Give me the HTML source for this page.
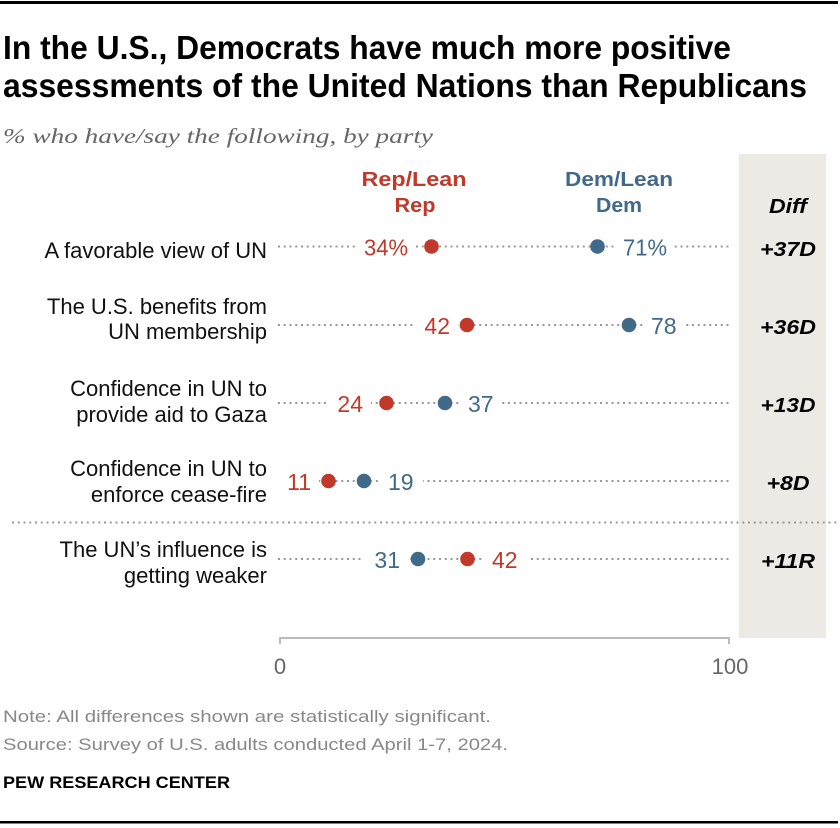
<!DOCTYPE html>
<html>
<head>
<meta charset="utf-8">
<style>
  html, body { margin: 0; padding: 0; background: #fff; }
  svg { display: block; }
</style>
</head>
<body>
<svg width="840" height="828" viewBox="0 0 840 828" xmlns="http://www.w3.org/2000/svg" font-family="'Liberation Sans', sans-serif">
  <!-- top rule -->
  <rect x="0" y="1" width="838" height="3" fill="#000"/>

  <!-- title -->
  <text x="3" y="59" font-size="33" font-weight="bold" fill="#000" textLength="728" lengthAdjust="spacingAndGlyphs">In the U.S., Democrats have much more positive</text>
  <text x="3" y="97" font-size="33" font-weight="bold" fill="#000" textLength="804" lengthAdjust="spacingAndGlyphs">assessments of the United Nations than Republicans</text>

  <!-- subtitle -->
  <text x="3" y="143" font-family="'Liberation Serif', serif" font-style="italic" font-size="21" fill="#666" textLength="430" lengthAdjust="spacingAndGlyphs">% who have/say the following, by party</text>

  <!-- diff column background -->
  <rect x="739" y="154" width="87" height="484" fill="#ECEAE4"/>

  <!-- column headers -->
  <text x="414" y="186" font-size="20" font-weight="bold" fill="#C0392B" text-anchor="middle" textLength="105" lengthAdjust="spacingAndGlyphs">Rep/Lean</text>
  <text x="415" y="212" font-size="20" font-weight="bold" fill="#C0392B" text-anchor="middle" textLength="41" lengthAdjust="spacingAndGlyphs">Rep</text>
  <text x="619" y="186" font-size="20" font-weight="bold" fill="#41698A" text-anchor="middle" textLength="108" lengthAdjust="spacingAndGlyphs">Dem/Lean</text>
  <text x="619" y="212" font-size="20" font-weight="bold" fill="#41698A" text-anchor="middle" textLength="46" lengthAdjust="spacingAndGlyphs">Dem</text>
  <text x="788" y="213" font-size="20" font-weight="bold" font-style="italic" fill="#000" text-anchor="middle" textLength="38" lengthAdjust="spacingAndGlyphs">Diff</text>

  <!-- dotted row lines -->
  <g stroke="#999" stroke-width="2" stroke-dasharray="2 3.75">
    <line x1="278" y1="246.5" x2="730" y2="246.5"/>
    <line x1="278" y1="325" x2="730" y2="325"/>
    <line x1="278" y1="403" x2="730" y2="403"/>
    <line x1="278" y1="481" x2="730" y2="481"/>
    <line x1="278" y1="559" x2="730" y2="559"/>
    <line x1="12" y1="522.5" x2="840" y2="522.5"/>
  </g>

  <!-- white masks behind value labels -->
  <g fill="#fff">
    <rect x="356" y="236" width="60" height="22"/>
    <rect x="615" y="236" width="58" height="22"/>
    <rect x="416" y="314" width="42" height="22"/>
    <rect x="643" y="314" width="41" height="22"/>
    <rect x="329" y="392" width="42" height="22"/>
    <rect x="460" y="392" width="42" height="22"/>
    <rect x="276" y="470" width="43" height="22"/>
    <rect x="380" y="470" width="43" height="22"/>
    <rect x="363" y="548" width="44" height="22"/>
    <rect x="485" y="548" width="43" height="22"/>
  </g>

  <!-- row labels -->
  <g font-size="22" fill="#111" text-anchor="end">
    <text x="267" y="258">A favorable view of UN</text>
    <text x="267" y="314">The U.S. benefits from</text>
    <text x="267" y="339">UN membership</text>
    <text x="267" y="396">Confidence in UN to</text>
    <text x="267" y="422">provide aid to Gaza</text>
    <text x="267" y="476">Confidence in UN to</text>
    <text x="267" y="502">enforce cease-fire</text>
    <text x="267" y="557">The UN’s influence is</text>
    <text x="267" y="583">getting weaker</text>
  </g>

  <!-- dots -->
  <g>
    <circle cx="431.5" cy="246.5" r="7.3" fill="#C0392B"/>
    <circle cx="597.5" cy="246.5" r="7.3" fill="#41698A"/>
    <circle cx="467" cy="325" r="7.3" fill="#C0392B"/>
    <circle cx="629" cy="325" r="7.3" fill="#41698A"/>
    <circle cx="386.5" cy="403" r="7.3" fill="#C0392B"/>
    <circle cx="445" cy="403" r="7.3" fill="#41698A"/>
    <circle cx="328.5" cy="481" r="7.3" fill="#C0392B"/>
    <circle cx="364" cy="481" r="7.3" fill="#41698A"/>
    <circle cx="418" cy="559" r="7.3" fill="#41698A"/>
    <circle cx="467.5" cy="559" r="7.3" fill="#C0392B"/>
  </g>

  <!-- value labels -->
  <g font-size="23">
    <text x="408" y="255.5" fill="#C0392B" text-anchor="end" textLength="44" lengthAdjust="spacingAndGlyphs">34%</text>
    <text x="623" y="255.5" fill="#41698A" textLength="44" lengthAdjust="spacingAndGlyphs">71%</text>
    <text x="450" y="334" fill="#C0392B" text-anchor="end">42</text>
    <text x="651" y="334" fill="#41698A">78</text>
    <text x="363" y="412" fill="#C0392B" text-anchor="end">24</text>
    <text x="468" y="412" fill="#41698A">37</text>
    <text x="311" y="490" fill="#C0392B" text-anchor="end">11</text>
    <text x="388" y="490" fill="#41698A">19</text>
    <text x="400" y="568" fill="#41698A" text-anchor="end">31</text>
    <text x="492" y="568" fill="#C0392B">42</text>
  </g>

  <!-- diff values -->
  <g font-size="20" font-weight="bold" font-style="italic" fill="#000" text-anchor="middle">
    <text x="788" y="256" textLength="56" lengthAdjust="spacingAndGlyphs">+37D</text>
    <text x="788" y="334" textLength="56" lengthAdjust="spacingAndGlyphs">+36D</text>
    <text x="788" y="412" textLength="55" lengthAdjust="spacingAndGlyphs">+13D</text>
    <text x="788" y="490" textLength="43" lengthAdjust="spacingAndGlyphs">+8D</text>
    <text x="788" y="568" textLength="54" lengthAdjust="spacingAndGlyphs">+11R</text>
  </g>

  <!-- axis -->
  <g stroke="#BBBBBB" stroke-width="2" fill="none">
    <path d="M280 644 V638 H729 V644"/>
  </g>
  <text x="280" y="674" font-size="22" fill="#666" text-anchor="middle">0</text>
  <text x="730" y="674" font-size="22" fill="#666" text-anchor="middle">100</text>

  <!-- footer -->
  <text x="3" y="722" font-size="17" fill="#888" textLength="488" lengthAdjust="spacingAndGlyphs">Note: All differences shown are statistically significant.</text>
  <text x="3" y="750" font-size="17" fill="#888" textLength="505" lengthAdjust="spacingAndGlyphs">Source: Survey of U.S. adults conducted April 1-7, 2024.</text>
  <text x="3" y="788" font-size="17" font-weight="bold" fill="#000" textLength="227" lengthAdjust="spacingAndGlyphs">PEW RESEARCH CENTER</text>

  <!-- bottom rule -->
  <rect x="0" y="821" width="838" height="2.5" fill="#000"/>
</svg>
</body>
</html>
